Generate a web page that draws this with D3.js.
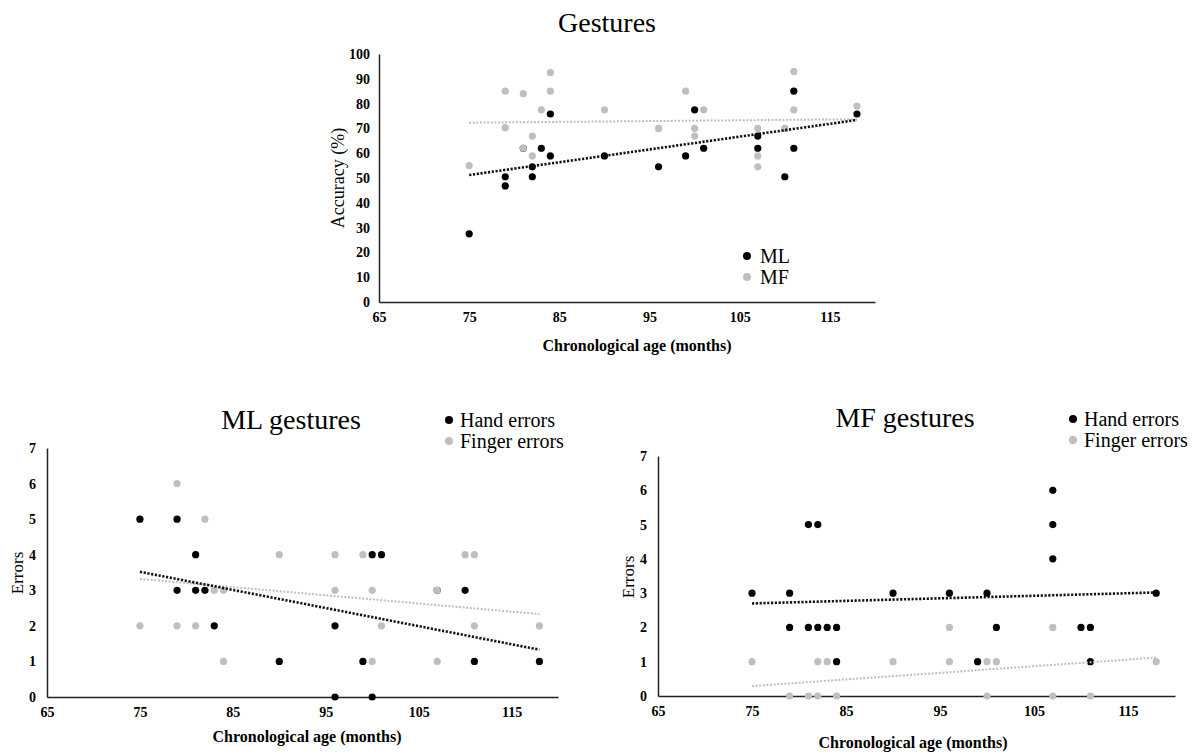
<!DOCTYPE html>
<html>
<head>
<meta charset="utf-8">
<script src="https://cdn.jsdelivr.net/npm/d3@7"></script>
<style>
  html, body { margin: 0; padding: 0; background: #fff; }
  svg { display: block; }
  text { font-family: "Liberation Serif", "Times New Roman", serif; fill: #000; }
</style>
</head>
<body>
<svg id="chart" width="1198" height="754"></svg>
<script>
// ---------------- DATA ----------------
const xTicks = [65, 75, 85, 95, 105, 115];
const accTicks = [0, 10, 20, 30, 40, 50, 60, 70, 80, 90, 100];
const errTicks = [0, 1, 2, 3, 4, 5, 6, 7];
const trendAges = [75, 118];

// Gestures accuracy (%)
const accML = [[75,27.5],[79,50.5],[79,46.8],[81,62],[82,54.5],[82,50.5],[83,62],[84,75.8],[84,58.9],[90,58.9],
  [96,54.5],[99,58.9],[100,77.5],[101,62],[107,66.9],[107,62],[110,50.5],[111,85],[111,62],[118,75.8]];
const accMF = [[75,55],[79,85],[79,70.3],[81,84],[81,62],[82,58.9],[82,66.9],[83,77.5],[84,92.5],[84,85],[90,77.5],
  [96,70],[99,85],[100,70],[100,66.9],[101,77.5],[107,70],[107,58.9],[107,54.5],[110,70],[111,92.9],[111,77.5],[118,79]];
const accTrendML = [51.2, 73.4];
const accTrendMF = [72.3, 73.7];

// ML gestures errors
const mlHand = [[75,5],[79,5],[79,3],[81,4],[81,3],[82,3],[83,2],[90,1],[96,2],[96,0],[99,1],[100,4],[100,0],
  [101,4],[107,3],[110,3],[111,1],[118,1]];
const mlFinger = [[75,2],[79,6],[79,2],[81,2],[82,5],[83,3],[84,3],[84,1],[90,4],[96,4],[96,3],[99,4],[100,3],
  [100,1],[101,2],[107,3],[107,1],[110,4],[111,4],[111,2],[118,2]];
const mlTrendHand = [3.52, 1.33];
const mlTrendFinger = [3.32, 2.33];

// MF gestures errors
const mfHand = [[75,3],[79,3],[79,2],[81,5],[82,5],[81,2],[82,2],[83,2],[84,2],[84,1],[90,3],[96,3],[99,1],
  [100,3],[101,2],[107,6],[107,5],[107,4],[110,2],[111,2],[111,1],[118,3]];
const mfFinger = [[75,1],[79,0],[81,0],[82,1],[82,0],[83,1],[84,0],[90,1],[96,2],[96,1],[100,1],[100,0],
  [101,1],[107,2],[107,0],[111,0],[118,1]];
const mfTrendHand = [2.70, 3.02];
const mfTrendFinger = [0.29, 1.12];

// ---------------- DRAW ----------------
const BLACK = "#000000";
const GREY = "#bfbfbf";
const svg = d3.select("#chart");

function panel(cfg) {
  const x = d3.scaleLinear().domain([65, 120]).range([cfg.x0, cfg.x1]);
  const y = d3.scaleLinear().domain(cfg.yDomain).range([cfg.y0, cfg.y1]);
  const g = svg.append("g");

  const xa = g.append("g").attr("transform", `translate(0,${cfg.y0})`)
    .call(d3.axisBottom(x).tickValues(xTicks).tickFormat(d3.format("d"))
      .tickSize(0).tickSizeOuter(0).tickPadding(cfg.xPad));
  const ya = g.append("g").attr("transform", `translate(${cfg.x0},0)`)
    .call(d3.axisLeft(y).tickValues(cfg.yTicks).tickFormat(d3.format("d"))
      .tickSize(0).tickSizeOuter(0).tickPadding(cfg.yPad));
  [xa, ya].forEach(a => {
    a.select(".domain").attr("stroke", "#222").attr("stroke-width", 1.5);
    a.selectAll("text").attr("font-family", "Liberation Serif").attr("font-size", 14)
      .attr("font-weight", "bold").attr("fill", "#111");
  });

  // points: series A (black) then series B (grey)
  [[cfg.a, BLACK], [cfg.b, GREY]].forEach(([data, col]) => {
    g.append("g").selectAll("circle").data(data).join("circle")
      .attr("cx", d => x(d[0])).attr("cy", d => y(d[1])).attr("r", 3.6).attr("fill", col);
  });

  // trendlines
  const line = d3.line().x(d => x(d[0])).y(d => y(d[1]));
  g.append("path").datum(trendAges.map((a, i) => [a, cfg.tb[i]]))
    .attr("d", line).attr("fill", "none").attr("stroke", GREY)
    .attr("stroke-width", 2).attr("stroke-dasharray", "2,1.6");
  g.append("path").datum(trendAges.map((a, i) => [a, cfg.ta[i]]))
    .attr("d", line).attr("fill", "none").attr("stroke", "#111")
    .attr("stroke-width", 2.6).attr("stroke-dasharray", "2.2,1.6");

  // title
  g.append("text").attr("x", cfg.titleX).attr("y", cfg.titleY).attr("text-anchor", "middle")
    .attr("font-size", 28).text(cfg.title);
  // axis titles
  g.append("text").attr("x", cfg.xtX).attr("y", cfg.xtY).attr("text-anchor", "middle")
    .attr("font-size", 16).attr("font-weight", "bold").attr("fill", "#111").text("Chronological age (months)");
  g.append("text").attr("transform", `translate(${cfg.ytX},${cfg.ytY}) rotate(-90)`)
    .attr("text-anchor", "middle").attr("dy", "0.35em").attr("font-size", cfg.ytSize).text(cfg.yTitle);

  // legend
  cfg.legend.forEach((L, i) => {
    const ly = cfg.legY + i * cfg.legGap;
    g.append("circle").attr("cx", cfg.legX).attr("cy", ly).attr("r", 4).attr("fill", L[1]);
    g.append("text").attr("x", cfg.legX + cfg.legTx).attr("y", ly).attr("dy", "0.33em")
      .attr("font-size", 20).text(L[0]);
  });
}

panel({
  x0: 379, x1: 875, y0: 302, y1: 54, yDomain: [0, 100], yTicks: accTicks, xPad: 10, yPad: 9,
  a: accML, b: accMF, ta: accTrendML, tb: accTrendMF,
  title: "Gestures", titleX: 607, titleY: 32,
  xtX: 637, xtY: 351, ytX: 338, ytY: 178, ytSize: 18, yTitle: "Accuracy (%)",
  legend: [["ML", BLACK], ["MF", GREY]], legX: 747, legY: 256, legGap: 21, legTx: 13
});

panel({
  x0: 47, x1: 558, y0: 697, y1: 448, yDomain: [0, 7], yTicks: errTicks, xPad: 10, yPad: 11,
  a: mlHand, b: mlFinger, ta: mlTrendHand, tb: mlTrendFinger,
  title: "ML gestures", titleX: 291, titleY: 429,
  xtX: 307, xtY: 742, ytX: 17, ytY: 573, ytSize: 17, yTitle: "Errors",
  legend: [["Hand errors", BLACK], ["Finger errors", GREY]], legX: 449, legY: 420, legGap: 21, legTx: 11
});

panel({
  x0: 658, x1: 1175, y0: 696, y1: 456, yDomain: [0, 7], yTicks: errTicks, xPad: 10, yPad: 11,
  a: mfHand, b: mfFinger, ta: mfTrendHand, tb: mfTrendFinger,
  title: "MF gestures", titleX: 905, titleY: 427,
  xtX: 913, xtY: 748, ytX: 628, ytY: 577, ytSize: 17, yTitle: "Errors",
  legend: [["Hand errors", BLACK], ["Finger errors", GREY]], legX: 1073, legY: 419, legGap: 21, legTx: 11
});
</script>
</body>
</html>
